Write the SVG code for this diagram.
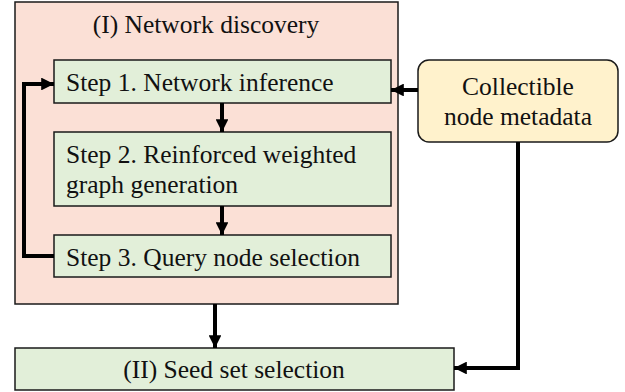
<svg xmlns="http://www.w3.org/2000/svg" width="625" height="392" viewBox="0 0 625 392">
<style>
text{font-family:"Liberation Serif","Times New Roman",serif;font-size:25.5px;fill:#111}
.box{stroke:#1a1a1a;stroke-width:1.5}
.green{fill:#E2EFD9}
.conn{fill:none;stroke:#000;stroke-width:4}
</style>
<defs>
<marker id="ah" viewBox="0 0 10 10" refX="10" refY="5" markerWidth="3.2" markerHeight="3.2" orient="auto" markerUnits="strokeWidth">
<path d="M0,0 L10,5 L0,10 z" fill="#000"/>
</marker>
</defs>
<rect width="625" height="392" fill="#fff"/>
<g id="network-discovery">
<rect class="box" x="15" y="2" width="383" height="302" fill="#FBE0D6"/>
<text x="206" y="33" text-anchor="middle">(I) Network discovery</text>
</g>
<g id="step1">
<rect class="box green" x="54" y="60" width="337" height="43"/>
<text x="66" y="91">Step 1. Network inference</text>
</g>
<g id="step2">
<rect class="box green" x="54" y="132" width="337" height="74"/>
<text x="66" y="163">Step 2. Reinforced weighted</text>
<text x="66" y="193">graph generation</text>
</g>
<g id="step3">
<rect class="box green" x="54" y="235" width="337" height="42"/>
<text x="66" y="266">Step 3. Query node selection</text>
</g>
<g id="seed">
<rect class="box green" x="15" y="348" width="439" height="42"/>
<text x="234" y="378" text-anchor="middle">(II) Seed set selection</text>
</g>
<g id="metadata">
<rect class="box" x="418" y="60" width="200" height="82" rx="11" fill="#FFF2CC"/>
<text x="518" y="95" text-anchor="middle">Collectible</text>
<text x="518" y="125" text-anchor="middle">node metadata</text>
</g>
<g id="connectors">
<path class="conn" d="M222,103 V132" marker-end="url(#ah)"/>
<path class="conn" d="M222,206 V235" marker-end="url(#ah)"/>
<path class="conn" d="M215,304 V348" marker-end="url(#ah)"/>
<path class="conn" d="M54,256 H24 V84 H54" marker-end="url(#ah)"/>
<path class="conn" d="M418,90 H391" marker-end="url(#ah)"/>
<path class="conn" d="M518,142 V368 H454" marker-end="url(#ah)"/>
</g>
</svg>
